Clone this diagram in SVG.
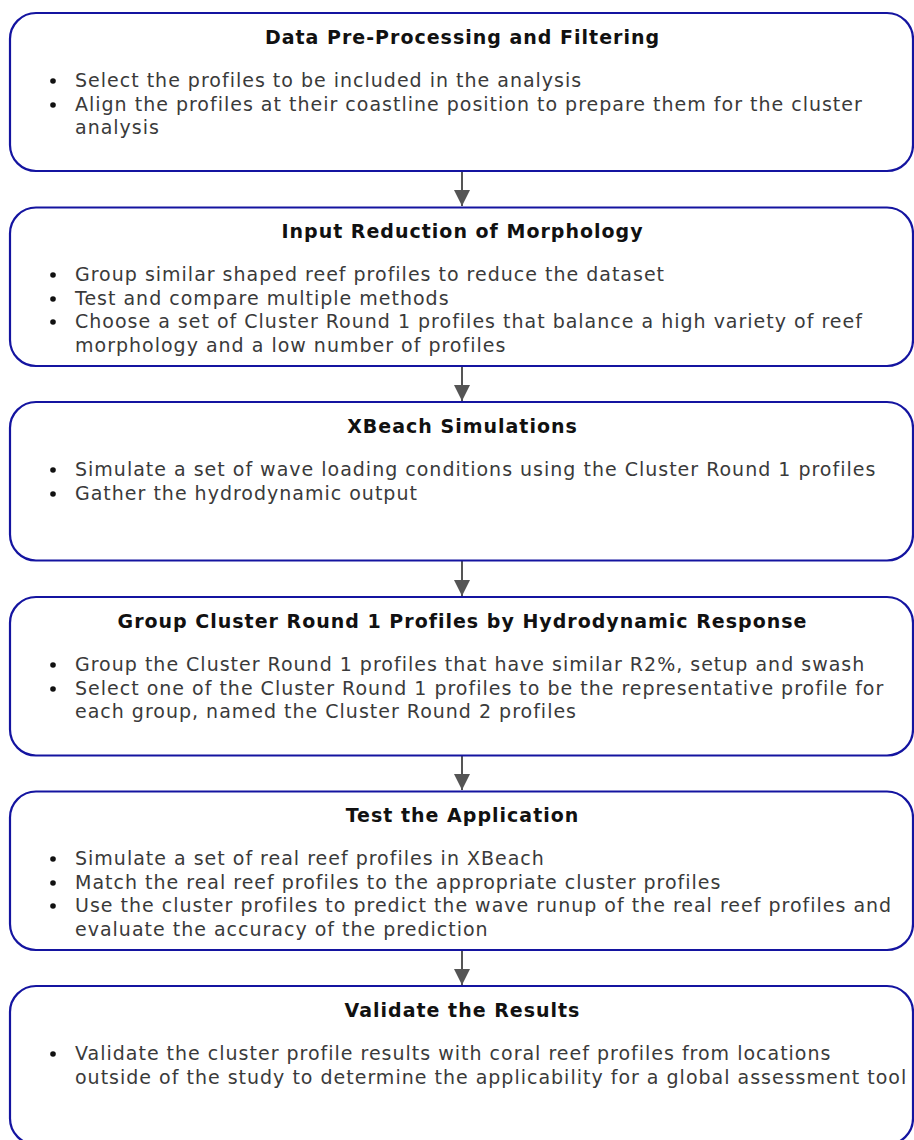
<svg xmlns="http://www.w3.org/2000/svg" width="914" height="1140" viewBox="0 0 914 1140">
  <style>
    .box { fill: #ffffff; stroke: #1414a0; stroke-width: 2.2; }
    .title { font-family: "DejaVu Sans", Verdana, sans-serif; font-size: 19px; letter-spacing: 1px; font-weight: bold; fill: #111111; text-anchor: middle; }
    .body { font-family: "DejaVu Sans", Verdana, sans-serif; font-size: 19px; letter-spacing: 1px; fill: #3a3a3a; }
    .dot { fill: #111111; }
    .link { stroke: #555555; stroke-width: 2; fill: none; }
  </style>
  <defs>
    <marker id="head" viewBox="0 0 10 10" refX="10" refY="5" markerUnits="userSpaceOnUse" markerWidth="16" markerHeight="16" orient="auto">
      <path d="M0,0 L10,5 L0,10 Z" fill="#555555"/>
    </marker>
  </defs>
  <rect width="914" height="1140" fill="#ffffff"/>

  <!-- connectors between the steps -->
  <g id="connectors">
    <line class="link" x1="462" y1="171" x2="462" y2="206" marker-end="url(#head)"/>
    <line class="link" x1="462" y1="366" x2="462" y2="401" marker-end="url(#head)"/>
    <line class="link" x1="462" y1="560" x2="462" y2="596" marker-end="url(#head)"/>
    <line class="link" x1="462" y1="755" x2="462" y2="790" marker-end="url(#head)"/>
    <line class="link" x1="462" y1="950" x2="462" y2="985" marker-end="url(#head)"/>
  </g>

  <g id="step1">
    <rect class="box" x="10" y="13" width="903" height="158" rx="26"/>
    <text class="title" x="462.5" y="44">Data Pre-Processing and Filtering</text>
    <circle class="dot" cx="53" cy="81" r="2.8"/>
    <circle class="dot" cx="53" cy="105" r="2.8"/>
    <text class="body" x="75" y="87">Select the profiles to be included in the analysis</text>
    <text class="body" x="75" y="111">Align the profiles at their coastline position to prepare them for the cluster</text>
    <text class="body" x="75" y="134">analysis</text>
  </g>

  <g id="step2">
    <rect class="box" x="10" y="207.5" width="903" height="158.5" rx="26"/>
    <text class="title" x="462.5" y="238">Input Reduction of Morphology</text>
    <circle class="dot" cx="53" cy="275" r="2.8"/>
    <circle class="dot" cx="53" cy="299" r="2.8"/>
    <circle class="dot" cx="53" cy="322" r="2.8"/>
    <text class="body" x="75" y="281">Group similar shaped reef profiles to reduce the dataset</text>
    <text class="body" x="75" y="305">Test and compare multiple methods</text>
    <text class="body" x="75" y="328">Choose a set of Cluster Round 1 profiles that balance a high variety of reef</text>
    <text class="body" x="75" y="352">morphology and a low number of profiles</text>
  </g>

  <g id="step3">
    <rect class="box" x="10" y="402" width="903" height="158.5" rx="26"/>
    <text class="title" x="462.5" y="433">XBeach Simulations</text>
    <circle class="dot" cx="53" cy="470" r="2.8"/>
    <circle class="dot" cx="53" cy="494" r="2.8"/>
    <text class="body" x="75" y="476">Simulate a set of wave loading conditions using the Cluster Round 1 profiles</text>
    <text class="body" x="75" y="500">Gather the hydrodynamic output</text>
  </g>

  <g id="step4">
    <rect class="box" x="10" y="597" width="903" height="158.5" rx="26"/>
    <text class="title" x="462.5" y="628">Group Cluster Round 1 Profiles by Hydrodynamic Response</text>
    <circle class="dot" cx="53" cy="665" r="2.8"/>
    <circle class="dot" cx="53" cy="689" r="2.8"/>
    <text class="body" x="75" y="671">Group the Cluster Round 1 profiles that have similar R2%, setup and swash</text>
    <text class="body" x="75" y="695">Select one of the Cluster Round 1 profiles to be the representative profile for</text>
    <text class="body" x="75" y="718">each group, named the Cluster Round 2 profiles</text>
  </g>

  <g id="step5">
    <rect class="box" x="10" y="791.5" width="903" height="158.5" rx="26"/>
    <text class="title" x="462.5" y="822">Test the Application</text>
    <circle class="dot" cx="53" cy="859" r="2.8"/>
    <circle class="dot" cx="53" cy="883" r="2.8"/>
    <circle class="dot" cx="53" cy="906" r="2.8"/>
    <text class="body" x="75" y="865">Simulate a set of real reef profiles in XBeach</text>
    <text class="body" x="75" y="889">Match the real reef profiles to the appropriate cluster profiles</text>
    <text class="body" x="75" y="912">Use the cluster profiles to predict the wave runup of the real reef profiles and</text>
    <text class="body" x="75" y="936">evaluate the accuracy of the prediction</text>
  </g>

  <g id="step6">
    <rect class="box" x="10" y="986" width="903" height="158.5" rx="26"/>
    <text class="title" x="462.5" y="1017">Validate the Results</text>
    <circle class="dot" cx="53" cy="1054" r="2.8"/>
    <text class="body" x="75" y="1060">Validate the cluster profile results with coral reef profiles from locations</text>
    <text class="body" x="75" y="1084">outside of the study to determine the applicability for a global assessment tool</text>
  </g>
</svg>
